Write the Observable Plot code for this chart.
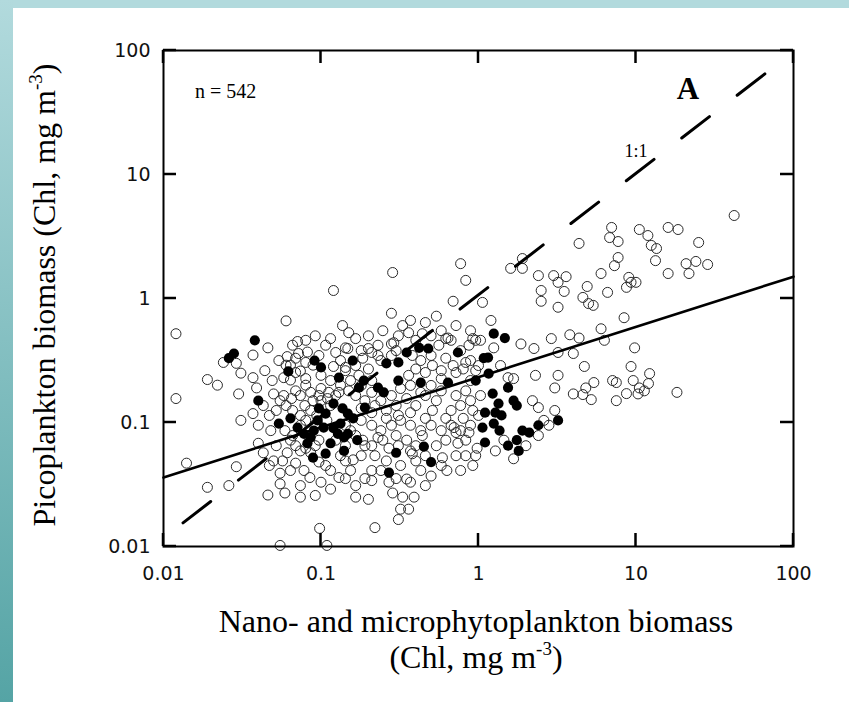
<!DOCTYPE html>
<html><head><meta charset="utf-8">
<script src="https://cdn.jsdelivr.net/npm/d3@7"></script>
<script src="https://cdn.jsdelivr.net/npm/@observablehq/plot@0.6"></script>
<style>
html,body{margin:0;padding:0;background:#fff;}
#page{position:relative;width:849px;height:702px;overflow:hidden;background:#fff;}
#topband{position:absolute;left:0;top:0;width:849px;height:8px;background:#b2dadd;}
#leftband{position:absolute;left:0;top:0;width:13px;height:702px;background:linear-gradient(#b2dadd,#55a4a5);}
#chart{position:absolute;left:0;top:0;}
</style></head>
<body><div id="page"><div id="topband"></div><div id="leftband"></div><div id="chart"></div></div>
<script>
// ---- data ----
const xTicks = [0.01, 0.1, 1, 10, 100];
const yTicks = [0.01, 0.1, 1, 10, 100];
const xTickLabels = ["0.01", "0.1", "1", "10", "100"];
const yTickLabels = ["0.01", "0.1", "1", "10", "100"];

const xTitle1 = "Nano- and microphytoplankton biomass";
const xTitle2 = ["(Chl, mg m", "-3", ")"];
const yTitle = ["Picoplankton biomass (Chl, mg m", "-3", ")"];
const nLabel = "n = 542";
const panelLabel = "A";
const oneToOneLabel = "1:1";

// regression line (solid) and 1:1 line (dashed)
const regX = [0.01, 100];
const regY = [0.036, 1.5];
const oneX = [0.0133, 67];
const oneY = [0.0155, 66];

// open circles
const openX = [0.012,0.012,0.014,0.019,0.026,0.024,0.029,0.019,0.022,0.031,0.037,0.030,0.039,0.037,0.046,0.031,0.037,0.040,0.029,0.040,
0.046,0.050,0.050,0.043,0.047,0.060,0.061,0.071,0.072,0.082,0.055,0.055,0.059,0.074,0.098,0.055,0.069,0.078,0.085,0.10,
0.061,0.064,0.069,0.074,0.080,0.086,0.089,0.097,0.10,0.112,0.115,0.060,0.066,0.074,0.080,0.059,0.064,0.069,0.074,0.086,
0.092,0.097,0.107,0.115,0.058,0.065,0.094,0.079,0.109,0.091,0.11,0.10,0.074,0.089,0.080,0.069,0.058,0.064,
0.12,0.285,0.77,0.83,0.69,1.06,0.28,0.137,0.15,0.33,0.36,0.29,0.44,0.58,0.64,0.12,0.148,0.18,0.20,0.23,
0.28,0.28,0.13,0.16,0.143,0.21,0.21,0.166,0.20,0.285,0.33,0.39,0.32,0.36,0.31,0.22,0.109,0.38,0.59,0.63,
0.74,0.23,0.40,0.50,0.56,0.67,0.77,0.87,0.96,0.89,0.80,0.72,0.58,0.51,0.46,0.40,0.36,0.58,0.72,0.83,
0.89,0.77,0.67,0.54,0.46,0.40,0.35,0.30,0.26,0.22,0.19,0.166,0.15,0.133,0.124,0.143,0.174,0.20,0.21,0.18,
0.21,0.24,0.28,0.32,0.37,0.43,0.50,0.58,0.67,0.77,0.89,1.0,0.83,0.72,0.154,0.184,0.21,0.247,0.30,0.35,
0.40,0.22,0.26,0.18,0.154,0.143,0.133,0.40,0.50,0.43,0.32,0.35,0.27,0.83,0.92,0.98,0.143,0.62,0.92,1.0,
0.143,
0.060,0.069,0.080,0.097,0.107,0.124,0.133,0.166,0.184,0.21,0.24,0.30,0.38,0.43,0.50,0.62,0.69,0.83,0.96,0.58,
0.50,0.43,0.37,0.32,0.28,0.24,0.21,0.18,0.154,0.13,0.115,0.10,0.086,0.074,0.066,0.080,0.097,0.124,0.143,0.166,
0.19,0.23,0.27,0.31,0.37,0.46,0.54,0.62,0.72,0.87,0.96,0.77,0.58,0.46,0.37,0.30,0.24,0.19,0.166,0.143,
0.115,0.092,0.074,0.064,0.057,0.052,0.048,0.047,0.043,0.052,0.055,0.049,0.044,0.054,0.066,0.080,0.092,0.115,0.166,0.20,
0.247,0.31,0.37,0.46,0.54,0.72,0.89,1.03,0.89,1.03,0.92,0.80,0.62,0.51,0.46,0.37,0.31,0.26,0.21,0.18,
4.35,7.7,7.3,1.6,1.9,1.9,2.4,3.0,3.2,3.6,6.0,2.5,2.5,3.5,3.2,4.9,4.6,5.0,5.35,6.6,
9.0,9.3,8.7,8.4,1.2,6.0,6.3,3.8,4.35,2.9,1.86,2.25,3.2,4.0,9.8,4.7,9.3,3.2,3.05,5.4,
7.1,7.5,9.6,10.5,11.3,10.3,12.2,4.0,4.6,4.8,5.2,7.5,1.25,1.54,1.67,2.2,2.4,3.05,2.6,2.8,
2.4,1.67,42,16,18.5,25,20.8,24,28.5,21.7,16,12,18.2,7.0,6.8,7.7,10.5,11.9,12.5,13.5,
13.3,10,1.45,0.70,0.44,1.38,2.3,8.7,1.28,2.0];
const openY = [0.52,0.156,0.047,0.030,0.031,0.305,0.30,0.222,0.20,0.25,0.23,0.17,0.19,0.35,0.40,0.104,0.118,0.095,0.044,0.068,
0.026,0.17,0.049,0.057,0.045,0.66,0.34,0.45,0.36,0.37,0.039,0.032,0.027,0.025,0.014,0.0102,0.047,0.041,0.036,0.033,
0.057,0.22,0.18,0.165,0.20,0.175,0.15,0.165,0.188,0.175,0.218,0.137,0.125,0.114,0.104,0.086,0.072,0.065,0.059,0.057,
0.065,0.048,0.045,0.041,0.165,0.156,0.114,0.137,0.104,0.095,0.156,0.24,0.26,0.29,0.226,0.253,0.23,0.29,
1.16,1.62,1.91,1.40,0.95,0.93,0.76,0.605,0.53,0.605,0.53,0.44,0.52,0.55,0.48,0.283,0.395,0.38,0.395,0.42,
0.43,0.347,0.036,0.05,0.049,0.041,0.034,0.025,0.024,0.027,0.025,0.025,0.020,0.020,0.0165,0.0142,0.0102,0.056,0.052,0.041,
0.068,0.347,0.46,0.50,0.42,0.46,0.38,0.42,0.46,0.316,0.27,0.253,0.262,0.288,0.253,0.27,0.24,0.18,0.165,0.18,
0.15,0.137,0.125,0.15,0.165,0.137,0.156,0.137,0.125,0.137,0.15,0.165,0.18,0.20,0.165,0.262,0.24,0.27,0.218,0.104,
0.095,0.086,0.095,0.104,0.095,0.086,0.095,0.086,0.095,0.086,0.095,0.114,0.072,0.054,0.086,0.072,0.065,0.072,0.0785,0.072,
0.065,0.054,0.049,0.054,0.041,0.065,0.054,0.049,0.037,0.041,0.045,0.035,0.033,0.054,0.045,0.062,0.40,0.475,0.475,0.288,
0.278,
0.29,0.33,0.305,0.347,0.42,0.367,0.316,0.288,0.33,0.367,0.316,0.38,0.347,0.316,0.347,0.33,0.288,0.305,0.262,0.226,
0.199,0.175,0.199,0.188,0.165,0.15,0.175,0.199,0.218,0.175,0.137,0.15,0.125,0.095,0.0785,0.062,0.072,0.072,0.095,0.0785,
0.065,0.0757,0.062,0.065,0.059,0.054,0.065,0.072,0.083,0.083,0.054,0.041,0.045,0.031,0.033,0.0353,0.041,0.0353,0.031,0.0353,
0.029,0.0258,0.031,0.041,0.049,0.065,0.086,0.114,0.137,0.125,0.15,0.218,0.262,0.316,0.42,0.46,0.50,0.475,0.475,0.50,
0.55,0.50,0.665,0.64,0.72,0.605,0.55,0.46,0.218,0.165,0.125,0.108,0.108,0.125,0.108,0.12,0.114,0.108,0.12,0.13,
2.78,2.14,1.84,1.75,1.75,2.1,1.53,1.53,1.35,1.5,1.59,1.16,0.95,1.14,0.85,1.25,1.02,0.91,0.88,1.12,
1.48,1.35,1.23,0.70,0.665,0.57,0.46,0.51,0.48,0.475,0.43,0.395,0.367,0.36,0.40,0.283,0.283,0.24,0.19,0.21,
0.218,0.21,0.218,0.19,0.18,0.17,0.248,0.17,0.168,0.19,0.153,0.15,0.40,0.23,0.226,0.15,0.132,0.125,0.104,0.095,
0.0785,0.051,4.67,3.74,3.6,2.83,1.91,1.99,1.88,1.59,1.59,0.206,0.175,3.74,3.1,2.88,3.6,3.22,2.68,2.53,
2.02,1.35,0.072,0.091,0.0785,0.288,0.24,0.171,0.059,0.065];

// filled circles
const filledX = [0.028,0.026,0.038,0.040,0.054,0.062,0.064,0.071,0.078,0.086,0.082,0.090,0.091,0.10,0.097,0.107,0.104,0.089,0.107,0.115,
0.159,0.26,0.31,0.35,0.42,0.48,0.74,1.08,0.187,0.23,0.25,0.31,0.43,0.64,0.96,0.12,0.137,0.148,0.16,0.148,
0.17,0.14,0.30,0.45,0.50,0.27,1.1,1.06,1.1,0.128,0.12,0.133,0.14,1.25,1.47,1.15,1.16,1.54,1.23,1.34,
1.67,1.75,1.28,1.4,1.25,1.36,1.54,1.75,1.8,1.9,2.1,2.4,3.2,0.095,0.13,0.174,0.19];
const filledY = [0.36,0.33,0.46,0.15,0.098,0.258,0.108,0.091,0.081,0.076,0.068,0.086,0.316,0.278,0.13,0.118,0.091,0.052,0.056,0.068,
0.316,0.30,0.305,0.367,0.40,0.395,0.367,0.33,0.218,0.191,0.175,0.218,0.21,0.21,0.218,0.142,0.13,0.118,0.108,0.081,
0.072,0.059,0.057,0.064,0.048,0.0395,0.12,0.091,0.069,0.081,0.09,0.098,0.076,0.52,0.48,0.334,0.248,0.191,0.171,0.142,
0.15,0.137,0.12,0.114,0.098,0.086,0.065,0.072,0.059,0.086,0.083,0.095,0.104,0.104,0.23,0.191,0.132];

(function () {
  const openPts = openX.map((x, i) => ({x, y: openY[i]}));
  const filledPts = filledX.map((x, i) => ({x, y: filledY[i]}));
  const regLine = regX.map((x, i) => ({x, y: regY[i]}));
  const oneLine = oneX.map((x, i) => ({x, y: oneY[i]}));
  const xLab = new Map(xTicks.map((d, i) => [d, xTickLabels[i]]));
  const yLab = new Map(yTicks.map((d, i) => [d, yTickLabels[i]]));

  const W = 849, H = 702, mL = 163, mR = 56, mT = 50, mB = 156;
  const tk = 13;

  const chart = Plot.plot({
    width: W, height: H,
    marginLeft: mL, marginRight: mR, marginTop: mT, marginBottom: mB,
    style: {background: "transparent", fontFamily: "'DejaVu Sans', sans-serif", fontSize: "19px", color: "#111"},
    x: {type: "log", domain: [0.01, 100]},
    y: {type: "log", domain: [0.01, 100]},
    marks: [
      Plot.axisX(xTicks, {tickSize: 0, tickPadding: 20, tickFormat: d => xLab.get(d), label: null, fontSize: 19}),
      Plot.axisY(yTicks, {tickSize: 0, tickPadding: 13, tickFormat: d => yLab.get(d), label: null, fontSize: 19}),
      Plot.dot(openPts, {x: "x", y: "y", r: 5, stroke: "#2a2a2a", strokeWidth: 1, fill: "none"}),
      Plot.dot(filledPts, {x: "x", y: "y", r: 5.1, fill: "#000", stroke: "none"}),
      Plot.line(regLine, {x: "x", y: "y", stroke: "#000", strokeWidth: 2.6}),
      Plot.line(oneLine, {x: "x", y: "y", stroke: "#000", strokeWidth: 3, strokeDasharray: "35,35"}),
      Plot.frame({stroke: "#000", strokeWidth: 2})
    ]
  });
  document.getElementById("chart").appendChild(chart);

  // inward ticks placed through the chart's own scales
  const svg = d3.select(chart);
  const sx = chart.scale("x"), sy = chart.scale("y");
  const fTop = mT, fBottom = H - mB, fLeft = mL, fRight = W - mR;
  const tg = svg.append("g").attr("stroke", "#000").attr("stroke-width", 2.5);
  xTicks.forEach(v => {
    const px = sx.apply(v);
    tg.append("line").attr("x1", px).attr("x2", px).attr("y1", fBottom).attr("y2", fBottom - tk);
    tg.append("line").attr("x1", px).attr("x2", px).attr("y1", fTop).attr("y2", fTop + tk);
  });
  yTicks.forEach(v => {
    const py = sy.apply(v);
    tg.append("line").attr("y1", py).attr("y2", py).attr("x1", fLeft).attr("x2", fLeft + tk);
    tg.append("line").attr("y1", py).attr("y2", py).attr("x1", fRight).attr("x2", fRight - tk);
  });

  // text annotations
  const serif = "'Liberation Serif', 'Times New Roman', serif";
  svg.append("text").attr("x", 195).attr("y", 98).attr("text-anchor", "start").attr("font-family", serif).attr("font-size", 20).attr("fill", "#000").text(nLabel);
  svg.append("text").attr("x", 688).attr("y", 99).attr("text-anchor", "middle").attr("font-family", serif).attr("font-weight", "bold").attr("font-size", 31).attr("fill", "#000").text(panelLabel);
  svg.append("text").attr("x", 636).attr("y", 157).attr("text-anchor", "middle").attr("font-family", serif).attr("font-size", 18).attr("fill", "#000").text(oneToOneLabel);
  svg.append("text").attr("x", 476).attr("y", 632).attr("text-anchor", "middle").attr("font-family", serif).attr("font-size", 32).attr("fill", "#000").text(xTitle1);
  const t2 = svg.append("text").attr("x", 476).attr("y", 668).attr("text-anchor", "middle").attr("font-family", serif).attr("font-size", 32).attr("fill", "#000");
  t2.append("tspan").text(xTitle2[0]);
  t2.append("tspan").attr("dy", -13).attr("font-size", 19).text(xTitle2[1]);
  t2.append("tspan").attr("dy", 13).text(xTitle2[2]);
  const ty = svg.append("text").attr("transform", "translate(55,295) rotate(-90)").attr("text-anchor", "middle").attr("font-family", serif).attr("font-size", 32).attr("fill", "#000");
  ty.append("tspan").text(yTitle[0]);
  ty.append("tspan").attr("dy", -13).attr("font-size", 19).text(yTitle[1]);
  ty.append("tspan").attr("dy", 13).text(yTitle[2]);
})();
</script>
</body></html>
